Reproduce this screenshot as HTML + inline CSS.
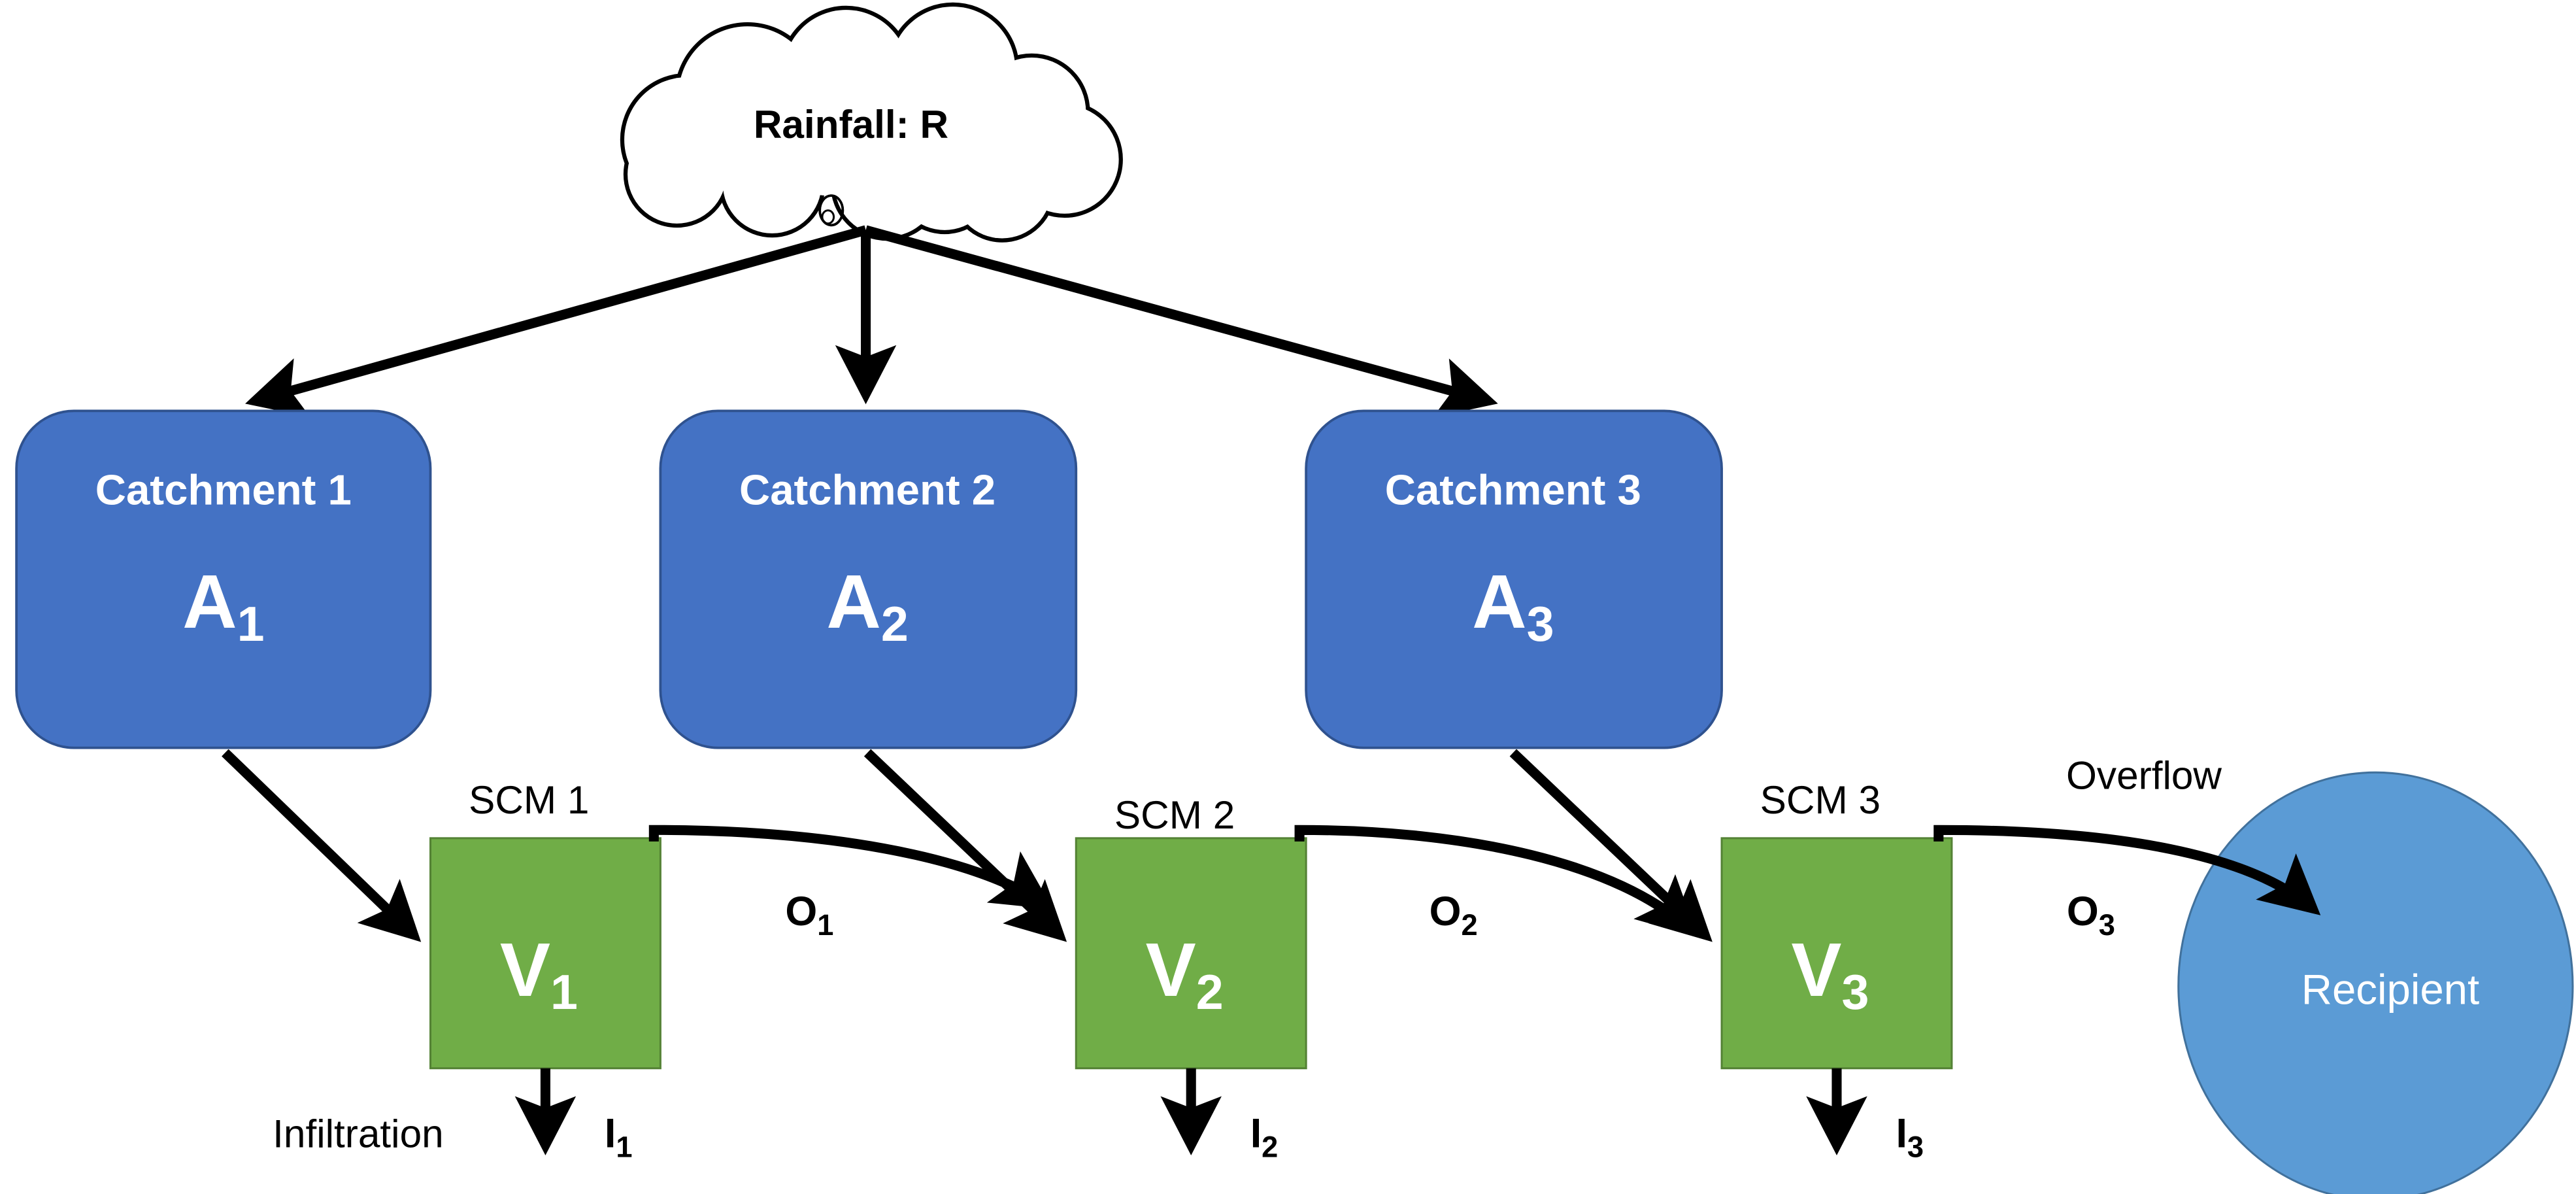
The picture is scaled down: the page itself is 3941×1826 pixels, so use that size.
<!DOCTYPE html>
<html><head><meta charset="utf-8"><style>
html,body{margin:0;padding:0;background:#fff;}
svg{display:block;}
text{font-family:"Liberation Sans",sans-serif;}
</style></head><body>
<svg width="3941" height="1826" viewBox="0 0 1568 726.5" xmlns="http://www.w3.org/2000/svg">
<defs>
<marker id="ah" markerWidth="8" markerHeight="8" refX="5" refY="3.5" orient="auto" markerUnits="strokeWidth">
<path d="M0,0.4 L6,3.5 L0,6.6 L1.2,3.5 Z" fill="#000"/>
</marker>
</defs>
<rect width="1568" height="727" fill="#fff"/>
<!-- cloud -->
<g stroke="#000" stroke-width="5" fill="#000">
<circle cx="418" cy="85" r="38"/><circle cx="455" cy="58" r="42"/><circle cx="515" cy="44" r="38"/>
<circle cx="580" cy="42" r="38"/><circle cx="628" cy="68" r="33"/><circle cx="648" cy="97" r="33"/>
<circle cx="610" cy="115" r="30"/><circle cx="540" cy="112" r="32"/><circle cx="470" cy="112" r="30"/>
<circle cx="412" cy="106" r="30"/><circle cx="575" cy="110" r="30"/>
</g>
<g fill="#fff">
<circle cx="418" cy="85" r="38"/><circle cx="455" cy="58" r="42"/><circle cx="515" cy="44" r="38"/>
<circle cx="580" cy="42" r="38"/><circle cx="628" cy="68" r="33"/><circle cx="648" cy="97" r="33"/>
<circle cx="610" cy="115" r="30"/><circle cx="540" cy="112" r="32"/><circle cx="470" cy="112" r="30"/>
<circle cx="412" cy="106" r="30"/><circle cx="575" cy="110" r="30"/><ellipse cx="525" cy="82" rx="100" ry="38"/>
</g>
<ellipse cx="506" cy="128" rx="7" ry="9" fill="none" stroke="#000" stroke-width="1.5"/>
<ellipse cx="504" cy="132" rx="3.5" ry="4" fill="none" stroke="#000" stroke-width="1.2"/>
<text x="518" y="84" font-size="24" font-weight="bold" text-anchor="middle">Rainfall: R</text>
<!-- rain arrows -->
<g stroke="#000" stroke-width="6" fill="none" marker-end="url(#ah)">
<line x1="527" y1="140" x2="155" y2="244"/>
<line x1="527" y1="140" x2="527" y2="240"/>
<line x1="527" y1="140" x2="906" y2="244"/>
</g>
<!-- catchments -->
<g fill="#4472C4" stroke="#2F528F" stroke-width="1.5">
<rect x="10" y="250" width="252" height="205" rx="35"/>
<rect x="402" y="250" width="253" height="205" rx="35"/>
<rect x="795" y="250" width="253" height="205" rx="35"/>
</g>
<g fill="#fff" font-weight="bold" text-anchor="middle">
<text x="136" y="307" font-size="26">Catchment 1</text>
<text x="528" y="307" font-size="26">Catchment 2</text>
<text x="921" y="307" font-size="26">Catchment 3</text>
<text x="136" y="382" font-size="46">A<tspan font-size="30" dy="8">1</tspan></text>
<text x="528" y="382" font-size="46">A<tspan font-size="30" dy="8">2</tspan></text>
<text x="921" y="382" font-size="46">A<tspan font-size="30" dy="8">3</tspan></text>
</g>
<!-- SCMs -->
<g fill="#70AD47" stroke="#548235" stroke-width="1.2">
<rect x="262" y="510" width="140" height="140"/>
<rect x="655" y="510" width="140" height="140"/>
<rect x="1048" y="510" width="140" height="140"/>
</g>
<g fill="#fff" text-anchor="middle" font-size="46" font-weight="bold">
<text x="328" y="606">V<tspan font-size="30" dy="8">1</tspan></text>
<text x="721" y="606">V<tspan font-size="30" dy="8">2</tspan></text>
<text x="1114" y="606">V<tspan font-size="30" dy="8">3</tspan></text>
</g>
<g font-size="24" text-anchor="middle">
<text x="322" y="495">SCM 1</text>
<text x="715" y="504">SCM 2</text>
<text x="1108" y="495">SCM 3</text>
<text x="1305" y="480">Overflow</text>
<text x="218" y="698">Infiltration</text>
</g>
<!-- catchment to SCM arrows -->
<g stroke="#000" stroke-width="6" fill="none" marker-end="url(#ah)">
<line x1="137" y1="458" x2="252" y2="569"/>
<line x1="528" y1="458" x2="645" y2="569"/>
<line x1="921" y1="458" x2="1038" y2="569"/>
</g>
<!-- overflow arrows -->
<g stroke="#000" stroke-width="6" fill="none" marker-end="url(#ah)">
<path d="M398,512 L398,505 C500,505 590,520 636,550"/>
<path d="M791,512 L791,505 C893,505 985,525 1029,566"/>
</g>
<!-- recipient -->
<ellipse cx="1446" cy="600" rx="120" ry="130" fill="#5B9BD5" stroke="#41719C" stroke-width="1.2"/>
<path d="M1180,512 L1180,505 C1290,505 1370,520 1408,553" stroke="#000" stroke-width="6" fill="none" marker-end="url(#ah)"/>
<text x="1455" y="611" font-size="26" fill="#fff" text-anchor="middle">Recipient</text>
<!-- O / I labels -->
<g font-size="25" font-weight="bold">
<text x="478" y="563">O<tspan font-size="18" dy="6">1</tspan></text>
<text x="870" y="563">O<tspan font-size="18" dy="6">2</tspan></text>
<text x="1258" y="563">O<tspan font-size="18" dy="6">3</tspan></text>
<text x="368" y="698">I<tspan font-size="18" dy="6">1</tspan></text>
<text x="761" y="698">I<tspan font-size="18" dy="6">2</tspan></text>
<text x="1154" y="698">I<tspan font-size="18" dy="6">3</tspan></text>
</g>
<!-- infiltration arrows -->
<g stroke="#000" stroke-width="6" fill="none" marker-end="url(#ah)">
<line x1="332" y1="650" x2="332" y2="697"/>
<line x1="725" y1="650" x2="725" y2="697"/>
<line x1="1118" y1="650" x2="1118" y2="697"/>
</g>
</svg>
</body></html>
